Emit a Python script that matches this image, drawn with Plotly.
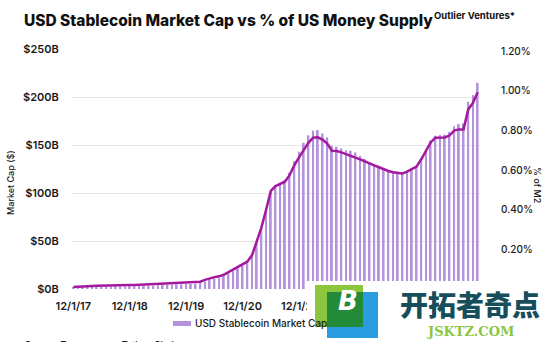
import plotly.graph_objects as go

# Monthly observations, Dec 2017 through Feb 2025 (first day of each month)
months = []
for y, m in [(2017, 12)] + [(yy, mm) for yy in range(2018, 2025) for mm in range(1, 13)] + [(2025, 1), (2025, 2)]:
    months.append(f"{m}/1/{str(y)[2:]}")

# USD stablecoin market cap, $B
market_cap_b = [
    1.4, 1.7, 1.8, 2.0, 2.1, 2.2, 2.4, 2.5, 2.6, 2.7, 2.7, 2.7,
    2.9, 2.9, 3.0, 3.2, 3.4, 3.5, 3.8, 4.2, 4.5, 4.5, 4.7, 4.9,
    5.1, 5.2, 5.4, 6.0, 7.8, 9.6, 10.9, 11.7, 13.3, 15.9, 18.6, 21.3,
    24.0, 26.8, 33.3, 48.8, 62.3, 81.2, 101.0, 107.1, 110.7, 113.3, 121.3, 133.1,
    143.0, 152.3, 160.1, 165.0, 165.5, 162.0, 158.0, 149.0, 148.0, 146.5, 144.5, 144.0,
    142.3, 138.9, 135.5, 132.3, 129.8, 127.9, 125.6, 124.0, 122.7, 121.9, 121.3, 123.3,
    125.8, 128.5, 136.2, 145.3, 154.7, 159.7, 160.4, 160.7, 163.5, 169.6, 171.7, 172.5,
    195.0, 202.1, 214.7,
]

# Stablecoin market cap as % of US M2
pct_of_m2 = [
    0.010, 0.012, 0.013, 0.014, 0.015, 0.016, 0.017, 0.018, 0.018, 0.019, 0.019, 0.019,
    0.020, 0.020, 0.021, 0.022, 0.023, 0.024, 0.026, 0.028, 0.030, 0.030, 0.031, 0.032,
    0.033, 0.034, 0.035, 0.037, 0.046, 0.054, 0.060, 0.064, 0.072, 0.085, 0.099, 0.112,
    0.125, 0.138, 0.170, 0.245, 0.310, 0.400, 0.495, 0.520, 0.532, 0.542, 0.575, 0.625,
    0.665, 0.705, 0.738, 0.764, 0.766, 0.755, 0.735, 0.698, 0.697, 0.690, 0.682, 0.674,
    0.665, 0.655, 0.645, 0.633, 0.624, 0.615, 0.604, 0.596, 0.590, 0.586, 0.583, 0.593,
    0.605, 0.618, 0.655, 0.695, 0.740, 0.764, 0.764, 0.765, 0.775, 0.800, 0.806, 0.806,
    0.907, 0.940, 0.994,
]

# Only the first five yearly labels are left uncovered by the footer panel
x_tick_labels = ["12/1/17", "12/1/18", "12/1/19", "12/1/20", "12/1/21"]
left_ticks = [0, 50, 100, 150, 200, 250]
left_tick_labels = ["$0B", "$50B", "$100B", "$150B", "$200B", "$250B"]
right_ticks = [0.2, 0.4, 0.6, 0.8, 1.0, 1.2]
right_tick_labels = ["0.20%", "0.40%", "0.60%", "0.80%", "1.00%", "1.20%"]

W, H = 555, 342
PL, PR, PT, PB = 71, 480, 49, 289  # plot box in pixels


def px(x):
    return (x - PL) / (PR - PL)


def py(y):
    return (PB - y) / (PB - PT)


BAR_COLOR = "#b493dc"
LINE_COLOR = "#a3189e"
TEXT = "#1a1a1a"
FONT = "Inter"

fig = go.Figure()
fig.add_trace(go.Bar(
    x=months, y=market_cap_b, name="USD Stablecoin Market Cap",
    marker=dict(color=BAR_COLOR, line=dict(width=0)), yaxis="y",
))
fig.add_trace(go.Scatter(
    x=months, y=pct_of_m2, name="% of M2", mode="lines",
    line=dict(color=LINE_COLOR, width=2.5), yaxis="y2",
))

tick_font = dict(family=FONT, size=11, color=TEXT, weight=600)

fig.update_layout(
    width=W, height=H,
    margin=dict(l=PL, r=W - PR, t=PT, b=H - PB),
    paper_bgcolor="white", plot_bgcolor="white",
    showlegend=False, bargap=0.6,
    xaxis=dict(
        type="category", range=[-0.5, len(months) - 0.5],
        tickmode="array",
        tickvals=[months[i * 12] for i in range(len(x_tick_labels))],
        ticktext=x_tick_labels, tickangle=0,
        ticks="outside", ticklen=7, tickcolor="rgba(0,0,0,0)",
        showgrid=False, showline=False, zeroline=False, tickfont=tick_font,
    ),
    yaxis=dict(
        range=[0, 250], tickvals=left_ticks, ticktext=left_tick_labels,
        ticks="outside", ticklen=9, tickcolor="rgba(0,0,0,0)",
        showgrid=True, gridcolor="#e6e6e6", gridwidth=1, zeroline=False,
        showline=False, tickfont=tick_font,
    ),
    yaxis2=dict(
        range=[0, 1.212], overlaying="y", side="right",
        tickvals=right_ticks, ticktext=right_tick_labels,
        ticks="outside", ticklen=18, tickcolor="rgba(0,0,0,0)",
        showgrid=False, zeroline=False, showline=False,
        tickfont=dict(family=FONT, size=10, color=TEXT, weight=500),
    ),
)

annotations = [
    dict(text="USD Stablecoin Market Cap vs % of US Money Supply", x=px(22), y=py(21),
         xanchor="left", yanchor="middle",
         font=dict(family=FONT, size=15.5, color="#111111", weight=800)),
    dict(text="Outlier Ventures*", x=px(432), y=py(15),
         xanchor="left", yanchor="middle",
         font=dict(family=FONT, size=9.5, color="#111111", weight=700)),
    dict(text="Market Cap ($)", x=px(10), y=py(183), textangle=-90,
         xanchor="center", yanchor="middle",
         font=dict(family=FONT, size=9, color=TEXT, weight=500)),
    dict(text="% of M2", x=px(538), y=py(185), textangle=90,
         xanchor="center", yanchor="middle",
         font=dict(family=FONT, size=9, color=TEXT, weight=500)),
    dict(text="USD Stablecoin Market Cap", x=px(193), y=py(323),
         xanchor="left", yanchor="middle",
         font=dict(family=FONT, size=10, color=TEXT, weight=500)),
    dict(text="Source: Treasury.gov, Tether, Circle", x=px(23), y=py(337),
         xanchor="left", yanchor="top",
         font=dict(family=FONT, size=9, color=TEXT, weight=500)),
    # site watermark
    dict(text="B", x=px(348), y=py(301), xanchor="center", yanchor="middle",
         font=dict(family="DejaVu Sans", size=26, color="white", weight=900, style="italic")),
    dict(text="开拓者奇点", x=px(470), y=py(304), xanchor="center", yanchor="middle",
         font=dict(family="Noto Sans CJK SC", size=28, color="#174e5c", weight=900)),
    dict(text="JSKTZ.COM", x=px(470), y=py(331), xanchor="center", yanchor="middle",
         font=dict(family="DejaVu Serif", size=13, color="#8cc63f", weight=700)),
]
for a in annotations:
    a.update(xref="paper", yref="paper", showarrow=False)
fig.update_layout(annotations=annotations)

shapes = [
    # legend swatch
    dict(type="rect", x0=px(173), x1=px(191), y0=py(321), y1=py(326),
         fillcolor=BAR_COLOR, line=dict(width=0)),
    # white footer panel carrying the site mark
    dict(type="rect", x0=px(307), x1=px(560), y0=py(281), y1=py(345),
         fillcolor="white", line=dict(width=0), layer="above"),
    dict(type="rect", x0=px(315), x1=px(363), y0=py(285), y1=py(327),
         fillcolor="#8cc63e", line=dict(width=0), layer="above"),
    dict(type="rect", x0=px(327), x1=px(378), y0=py(292), y1=py(338),
         fillcolor="#2a9de0", line=dict(width=0), layer="above"),
    dict(type="rect", x0=px(327), x1=px(363), y0=py(292), y1=py(327),
         fillcolor="#238a3a", line=dict(width=0), layer="above"),
]
for s in shapes:
    s.update(xref="paper", yref="paper")
fig.update_layout(shapes=shapes)

fig.write_html("out.html")
